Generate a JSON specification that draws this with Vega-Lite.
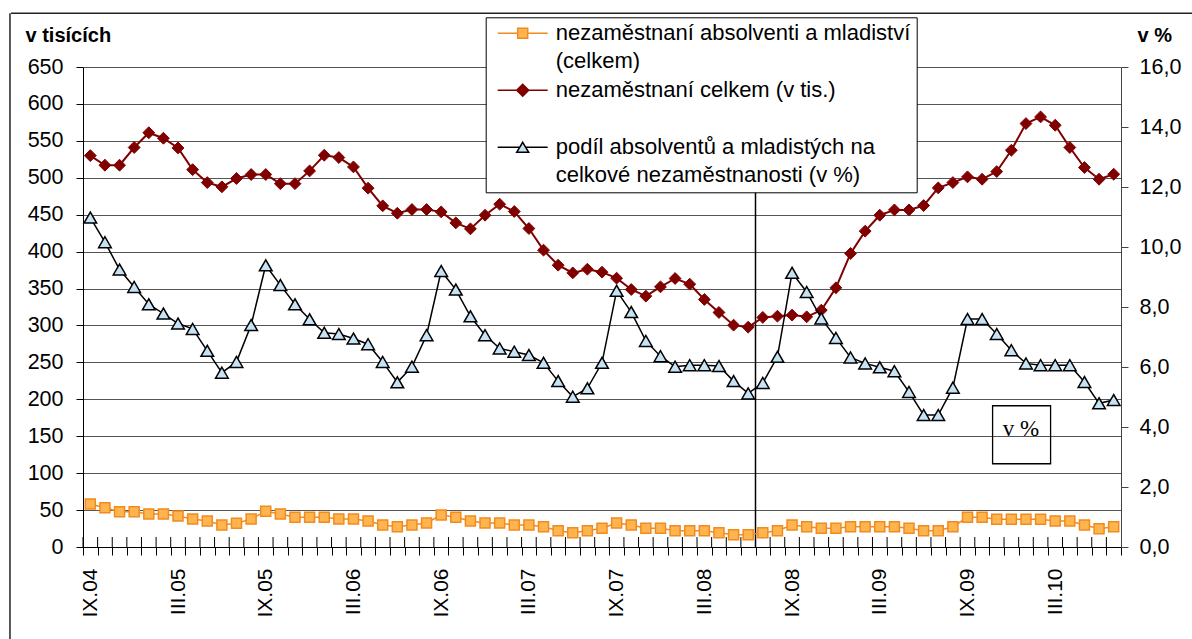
{
  "$schema": "https://vega.github.io/schema/vega-lite/v6.json",
  "width": 1038,
  "height": 480,
  "autosize": "none",
  "padding": {"left": 83, "top": 67, "right": 71, "bottom": 92},
  "background": "white",
  "config": {
    "view": {"stroke": null},
    "font": "Liberation Sans",
    "axis": {"labelColor": "#000", "titleColor": "#000", "labelFont": "Liberation Sans", "titleFont": "Liberation Sans"}
  },
  "data": {"values": [
    {"m": "IX.04", "abs": 58.2, "tot": 530, "pct": 10.98},
    {"m": "X.04", "abs": 53.2, "tot": 517, "pct": 10.16},
    {"m": "XI.04", "abs": 47.8, "tot": 517, "pct": 9.25},
    {"m": "XII.04", "abs": 47.8, "tot": 541, "pct": 8.67},
    {"m": "I.05", "abs": 44.7, "tot": 561, "pct": 8.09},
    {"m": "II.05", "abs": 44.7, "tot": 553.5, "pct": 7.78},
    {"m": "III.05", "abs": 42.0, "tot": 540.4, "pct": 7.45},
    {"m": "IV.05", "abs": 37.9, "tot": 511, "pct": 7.27},
    {"m": "V.05", "abs": 35.2, "tot": 493.5, "pct": 6.54},
    {"m": "VI.05", "abs": 29.8, "tot": 487.7, "pct": 5.81},
    {"m": "VII.05", "abs": 32.0, "tot": 499, "pct": 6.17},
    {"m": "VIII.05", "abs": 37.9, "tot": 504.4, "pct": 7.40},
    {"m": "IX.05", "abs": 48.3, "tot": 504.4, "pct": 9.39},
    {"m": "X.05", "abs": 44.7, "tot": 492, "pct": 8.73},
    {"m": "XI.05", "abs": 40.2, "tot": 492, "pct": 8.09},
    {"m": "XII.05", "abs": 40.2, "tot": 509.3, "pct": 7.59},
    {"m": "I.06", "abs": 40.2, "tot": 530.5, "pct": 7.14},
    {"m": "II.06", "abs": 37.9, "tot": 527.4, "pct": 7.10},
    {"m": "III.06", "abs": 37.9, "tot": 514.7, "pct": 6.95},
    {"m": "IV.06", "abs": 35.2, "tot": 485.9, "pct": 6.76},
    {"m": "V.06", "abs": 29.8, "tot": 462, "pct": 6.17},
    {"m": "VI.06", "abs": 27.5, "tot": 452, "pct": 5.49},
    {"m": "VII.06", "abs": 29.8, "tot": 457, "pct": 6.01},
    {"m": "VIII.06", "abs": 32.5, "tot": 457, "pct": 7.06},
    {"m": "IX.06", "abs": 43.3, "tot": 453.8, "pct": 9.20},
    {"m": "X.06", "abs": 40.2, "tot": 438.9, "pct": 8.58},
    {"m": "XI.06", "abs": 35.2, "tot": 430.8, "pct": 7.69},
    {"m": "XII.06", "abs": 32.5, "tot": 449.3, "pct": 7.06},
    {"m": "I.07", "abs": 32.5, "tot": 464.2, "pct": 6.62},
    {"m": "II.07", "abs": 29.8, "tot": 454.3, "pct": 6.51},
    {"m": "III.07", "abs": 29.8, "tot": 431.3, "pct": 6.40},
    {"m": "IV.07", "abs": 27.5, "tot": 402, "pct": 6.14},
    {"m": "V.07", "abs": 22.1, "tot": 381.6, "pct": 5.53},
    {"m": "VI.07", "abs": 19.4, "tot": 371.2, "pct": 5.01},
    {"m": "VII.07", "abs": 22.1, "tot": 376.2, "pct": 5.29},
    {"m": "VIII.07", "abs": 25.3, "tot": 372.2, "pct": 6.14},
    {"m": "IX.07", "abs": 32.5, "tot": 364, "pct": 8.54},
    {"m": "X.07", "abs": 29.8, "tot": 348.7, "pct": 7.83},
    {"m": "XI.07", "abs": 25.3, "tot": 339.7, "pct": 6.87},
    {"m": "XII.07", "abs": 25.3, "tot": 352.3, "pct": 6.36},
    {"m": "I.08", "abs": 22.1, "tot": 363.6, "pct": 6.01},
    {"m": "II.08", "abs": 22.1, "tot": 355.9, "pct": 6.06},
    {"m": "III.08", "abs": 22.1, "tot": 335.2, "pct": 6.06},
    {"m": "IV.08", "abs": 19.4, "tot": 317.6, "pct": 6.03},
    {"m": "V.08", "abs": 16.7, "tot": 300.4, "pct": 5.53},
    {"m": "VI.08", "abs": 16.7, "tot": 297.7, "pct": 5.12},
    {"m": "VII.08", "abs": 19.4, "tot": 310.9, "pct": 5.47},
    {"m": "VIII.08", "abs": 22.1, "tot": 312.6, "pct": 6.34},
    {"m": "IX.08", "abs": 29.8, "tot": 314, "pct": 9.14},
    {"m": "X.08", "abs": 27.5, "tot": 311.7, "pct": 8.50},
    {"m": "XI.08", "abs": 25.3, "tot": 320.7, "pct": 7.62},
    {"m": "XII.08", "abs": 25.3, "tot": 351, "pct": 6.97},
    {"m": "I.09", "abs": 27.5, "tot": 397.5, "pct": 6.32},
    {"m": "II.09", "abs": 27.5, "tot": 427.7, "pct": 6.12},
    {"m": "III.09", "abs": 27.5, "tot": 449.3, "pct": 5.99},
    {"m": "IV.09", "abs": 27.5, "tot": 456.5, "pct": 5.86},
    {"m": "V.09", "abs": 25.3, "tot": 456.5, "pct": 5.17},
    {"m": "VI.09", "abs": 22.1, "tot": 462.4, "pct": 4.40},
    {"m": "VII.09", "abs": 22.1, "tot": 486.3, "pct": 4.40},
    {"m": "VIII.09", "abs": 27.5, "tot": 493.5, "pct": 5.31},
    {"m": "IX.09", "abs": 40.2, "tot": 501.2, "pct": 7.60},
    {"m": "X.09", "abs": 40.2, "tot": 498, "pct": 7.60},
    {"m": "XI.09", "abs": 37.5, "tot": 508.4, "pct": 7.10},
    {"m": "XII.09", "abs": 37.5, "tot": 537.3, "pct": 6.56},
    {"m": "I.10", "abs": 37.5, "tot": 573.4, "pct": 6.12},
    {"m": "II.10", "abs": 37.5, "tot": 582.4, "pct": 6.06},
    {"m": "III.10", "abs": 35.2, "tot": 571.1, "pct": 6.06},
    {"m": "IV.10", "abs": 35.2, "tot": 541, "pct": 6.06},
    {"m": "V.10", "abs": 29.8, "tot": 513.9, "pct": 5.50},
    {"m": "VI.10", "abs": 24.8, "tot": 498, "pct": 4.79},
    {"m": "VII.10", "abs": 27.5, "tot": 504.8, "pct": 4.90}
  ]},
  "encoding": {
    "x": {
      "field": "m", "type": "ordinal",
      "scale": {"type": "band", "paddingInner": 0, "paddingOuter": 0,
        "domain": ["IX.04","X.04","XI.04","XII.04","I.05","II.05","III.05","IV.05","V.05","VI.05","VII.05","VIII.05","IX.05","X.05","XI.05","XII.05","I.06","II.06","III.06","IV.06","V.06","VI.06","VII.06","VIII.06","IX.06","X.06","XI.06","XII.06","I.07","II.07","III.07","IV.07","V.07","VI.07","VII.07","VIII.07","IX.07","X.07","XI.07","XII.07","I.08","II.08","III.08","IV.08","V.08","VI.08","VII.08","VIII.08","IX.08","X.08","XI.08","XII.08","I.09","II.09","III.09","IV.09","V.09","VI.09","VII.09","VIII.09","IX.09","X.09","XI.09","XII.09","I.10","II.10","III.10","IV.10","V.10","VI.10","VII.10"]},
      "axis": {
        "title": null, "labelAngle": -90, "grid": false,
        "labelExpr": "test(/^(IX|III)\\./, datum.label) ? datum.label : ''",
        "tickBand": "extent", "tickSize": 8, "tickColor": "#000", "domainColor": "#000",
        "labelPadding": 13, "labelFontSize": 21, "labelOverlap": false
      }
    }
  },
  "layer": [
    {
      "layer": [
        {
          "mark": {"type": "rule", "color": "#000", "strokeWidth": 1},
          "encoding": {
            "x": {"field": "m", "type": "ordinal", "bandPosition": 0},
            "y": {"datum": 0, "type": "quantitative", "scale": {"domain": [0, 650], "nice": false}, "axis": null},
            "y2": {"datum": 13.5}
          }
        },
        {
          "data": {"values": [{"note": "frame"}]},
          "mark": {"type": "rule", "color": "#222", "strokeWidth": 1.5},
          "encoding": {
            "x": {"datum": "IX.04", "type": "ordinal", "bandPosition": -4.995},
            "y": {"datum": 722.7, "type": "quantitative", "scale": {"domain": [0, 650], "nice": false}, "axis": null},
            "y2": {"datum": -135}
          }
        },
        {
          "data": {"values": [{"note": "frame"}]},
          "mark": {"type": "tick", "color": "#222", "thickness": 1.5, "size": 1182, "opacity": 1, "orient": "horizontal"},
          "encoding": {
            "x": {"datum": "VIII.07", "type": "ordinal", "bandPosition": 0.44},
            "y": {"datum": 722.7, "type": "quantitative", "scale": {"domain": [0, 650], "nice": false}, "axis": null}
          }
        },
        {
          "data": {"values": [{"note": "VII.08"}]},
          "mark": {"type": "rule", "color": "#000", "strokeWidth": 1.5},
          "encoding": {
            "x": {"field": "note", "type": "ordinal", "bandPosition": 0}
          }
        },
        {
          "data": {"values": [{"t": "v %", "m": "I.10"}]},
          "mark": {"type": "point", "shape": "square", "size": 3364, "filled": false, "stroke": "#000", "strokeWidth": 1.3, "opacity": 1},
          "encoding": {
            "x": {"field": "m", "type": "ordinal", "bandPosition": 0.2},
            "y": {"datum": 152, "type": "quantitative", "scale": {"domain": [0, 650], "nice": false}, "axis": null}
          }
        },
        {
          "data": {"values": [{"t": "v %", "m": "I.10"}]},
          "mark": {"type": "text", "font": "Liberation Serif", "fontSize": 23, "fontWeight": "normal", "align": "center", "baseline": "middle", "color": "#000"},
          "encoding": {
            "x": {"field": "m", "type": "ordinal", "bandPosition": 0.15},
            "y": {"datum": 160, "type": "quantitative", "scale": {"domain": [0, 650], "nice": false}, "axis": null},
            "text": {"field": "t"}
          }
        }
      ]
    },
    {
      "transform": [{"fold": ["abs", "tot"], "as": ["k", "v"]}],
      "encoding": {
        "y": {"field": "v", "type": "quantitative",
          "scale": {"domain": [0, 650], "nice": false, "zero": true},
          "axis": {
            "title": "v tisících", "titleAngle": 0, "titleX": -58, "titleY": -26,
            "titleAlign": "left", "titleBaseline": "alphabetic", "titleFontSize": 20, "titleFontWeight": "bold",
            "values": [0,50,100,150,200,250,300,350,400,450,500,550,600,650],
            "grid": true, "gridColor": "#555", "gridWidth": 1,
            "tickSize": 7, "tickColor": "#000", "domainColor": "#000",
            "labelPadding": 13, "labelFontSize": 21.5
          }
        }
      },
      "layer": [
        {
          "transform": [{"filter": "datum.k == 'abs'"}],
          "mark": {"type": "line", "strokeWidth": 1.5},
          "encoding": {
            "color": {
              "datum": "nezaměstnaní absolventi a mladiství (celkem)", "type": "nominal",
              "scale": {
                "domain": ["nezaměstnaní absolventi a mladiství (celkem)", "nezaměstnaní celkem (v tis.)", "podíl absolventů a mladistých na celkové nezaměstnanosti (v %)"],
                "range": ["#F28A1E", "#800000", "#000000"]
              },
              "legend": {
                "orient": "none", "legendX": 402.7, "legendY": -49.7, "direction": "vertical",
                "title": null, "symbolSize": 2500, "symbolStrokeWidth": 1.5, "clipHeight": 20,
                "labelFontSize": 22, "labelFont": "Liberation Sans", "labelColor": "#000", "labelLimit": 1000,
                "labelBaseline": "middle", "padding": 6, "symbolOffset": 5, "labelOffset": 7, "rowPadding": 7,
                "fillColor": "white", "strokeColor": "#000",
                "labelExpr": "datum.label == 'nezaměstnaní celkem (v tis.)' ? ['nezaměstnaní celkem (v tis.)', ''] : datum.label == 'nezaměstnaní absolventi a mladiství (celkem)' ? ['nezaměstnaní absolventi a mladiství  ', '(celkem)'] : ['podíl absolventů a mladistých na', 'celkové nezaměstnanosti (v %)']",
                "encode": {
                  "labels": {"update": {"lineHeight": {"value": 28}}},
                  "symbols": {"update": {
                    "shape": {"signal": "datum.value == 'nezaměstnaní absolventi a mladiství (celkem)' ? 'M-1,0H-0.2M0.2,0H1M-0.2,-0.2H0.2V0.2H-0.2Z' : datum.value == 'nezaměstnaní celkem (v tis.)' ? 'M-1,0H-0.24M0.24,0H1M0,-0.24L0.24,0L0,0.24L-0.24,0Z' : 'M-1,0H-0.12M0.12,0H1M0,-0.2L0.24,0.2L-0.24,0.2Z'"},
                    "fill": {"signal": "datum.value == 'nezaměstnaní absolventi a mladiství (celkem)' ? '#FFB54F' : datum.value == 'nezaměstnaní celkem (v tis.)' ? '#800000' : '#C6E2F5'"},
                    "stroke": {"signal": "datum.value == 'nezaměstnaní absolventi a mladiství (celkem)' ? '#F28A1E' : datum.value == 'nezaměstnaní celkem (v tis.)' ? '#800000' : '#000000'"},
                    "fillOpacity": {"value": 1},
                    "strokeOpacity": {"value": 1},
                    "strokeWidth": {"value": 1.5}
                  }}
                }
              }
            }
          }
        },
        {
          "transform": [{"filter": "datum.k == 'abs'"}],
          "mark": {"type": "point", "shape": "square", "size": 100, "filled": true, "fill": "#FFB54F", "stroke": "#F28A1E", "strokeWidth": 1.5, "opacity": 1}
        },
        {
          "transform": [{"filter": "datum.k == 'tot'"}],
          "mark": {"type": "line", "strokeWidth": 2},
          "encoding": {
            "color": {"datum": "nezaměstnaní celkem (v tis.)", "type": "nominal"}
          }
        },
        {
          "transform": [{"filter": "datum.k == 'tot'"}],
          "mark": {"type": "point", "shape": "diamond", "size": 140, "filled": true, "fill": "#800000", "stroke": "#800000", "strokeWidth": 1, "opacity": 1}
        }
      ]
    },
    {
      "encoding": {
        "y": {"field": "pct", "type": "quantitative",
          "scale": {"domain": [0, 16], "nice": false, "zero": true},
          "axis": {
            "orient": "right", "title": "v %", "titleAngle": 0, "titleX": 16, "titleY": -26,
            "titleAlign": "left", "titleBaseline": "alphabetic", "titleFontSize": 20, "titleFontWeight": "bold",
            "values": [0,2,4,6,8,10,12,14,16],
            "labelExpr": "replace(format(datum.value, '.1f'), '.', ',')",
            "grid": false, "tickSize": 7, "tickColor": "#444", "domainColor": "#444",
            "labelPadding": 11, "labelFontSize": 21.5
          }
        }
      },
      "layer": [
        {
          "mark": {"type": "line", "strokeWidth": 1.5},
          "encoding": {
            "color": {"datum": "podíl absolventů a mladistých na celkové nezaměstnanosti (v %)", "type": "nominal"}
          }
        },
        {
          "mark": {"type": "point", "shape": "triangle-up", "size": 160, "filled": true, "fill": "#C6E2F5", "stroke": "#000", "strokeWidth": 1.5, "opacity": 1}
        }
      ]
    }
  ],
  "resolve": {"scale": {"y": "independent"}}
}
